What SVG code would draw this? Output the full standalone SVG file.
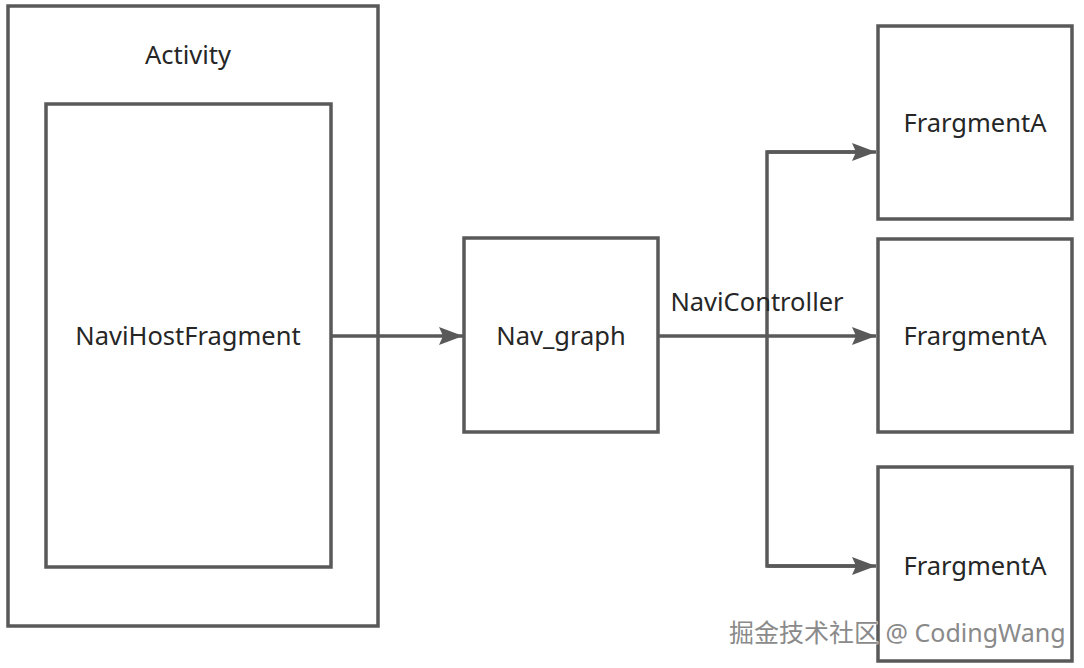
<svg xmlns="http://www.w3.org/2000/svg" width="1084" height="668" viewBox="0 0 1084 668">
<style>
.box{fill:#fff;stroke:#595959;stroke-width:3.5}
.lbl{font-family:"Noto Sans","Open Sans",sans-serif;font-size:25.5px;fill:#262626;text-anchor:middle}
.con{fill:none;stroke:#595959;stroke-width:3.5}
.wm{font-family:"Noto Sans","Noto Sans CJK SC",sans-serif;font-size:25px;fill:#8a8a8a;stroke:#fff;stroke-width:0.8;paint-order:stroke}
</style>
<defs>
<marker id="ah" markerUnits="userSpaceOnUse" markerWidth="26" markerHeight="20" refX="24" refY="10" orient="auto">
<path d="M0,1 L24,10 L0,19 L4,10 Z" fill="#595959"/>
</marker>
</defs>
<rect width="1084" height="668" fill="#fff"/>
<g id="activity">
<rect class="box" x="8" y="6" width="370" height="620"/>
<text class="lbl" x="188" y="64">Activity</text>
</g>
<g id="navihost">
<rect class="box" x="46" y="104" width="285" height="463"/>
<text class="lbl" x="188" y="345">NaviHostFragment</text>
</g>
<g id="navgraph">
<rect class="box" x="464" y="238" width="194" height="194"/>
<text class="lbl" x="561" y="345">Nav_graph</text>
</g>
<g id="fragA1">
<rect class="box" x="878" y="26" width="194" height="193"/>
<text class="lbl" x="975" y="132">FrargmentA</text>
</g>
<g id="fragA2">
<rect class="box" x="878" y="239" width="194" height="193"/>
<text class="lbl" x="975" y="345">FrargmentA</text>
</g>
<g id="fragA3">
<rect class="box" x="878" y="467" width="194" height="194"/>
<text class="lbl" x="975" y="575">FrargmentA</text>
</g>
<g id="connectors">
<line class="con" x1="331" y1="336" x2="463" y2="336" marker-end="url(#ah)"/>
<line class="con" x1="658" y1="336" x2="876" y2="336" marker-end="url(#ah)"/>
<polyline class="con" points="870,152 767,152 767,566 870,566"/>
<line class="con" x1="767" y1="152" x2="876" y2="152" marker-end="url(#ah)"/>
<line class="con" x1="767" y1="566" x2="876" y2="566" marker-end="url(#ah)"/>
<text class="lbl" x="757" y="311">NaviController</text>
</g>
<text class="wm" x="729" y="642">掘金技术社区 @ CodingWang</text>
</svg>
